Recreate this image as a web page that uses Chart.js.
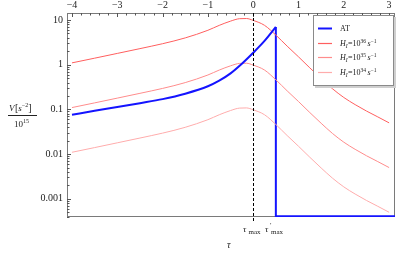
<!DOCTYPE html>
<html><head><meta charset="utf-8">
<script src="https://cdn.jsdelivr.net/npm/chart.js@4/dist/chart.umd.min.js"></script>
<style>html,body{margin:0;padding:0;background:#fff;overflow:hidden}</style>
</head><body>
<canvas id="c" width="415" height="259"></canvas>
<script>
// ---- data ----
const tau   = [-4,-3.5,-3,-2.5,-2,-1.5,-1,-0.75,-0.5,-0.3,-0.15,0,0.25,0.5,0.75,1,1.25,1.5,1.75,2,2.25,2.5,2.75,3];
const hI36  = [1.1,1.4,1.79,2.29,2.95,3.98,5.89,7.59,9.44,10.7,10.8,9.8,7.6,4.6,2.6,1.5,0.85,0.49,0.29,0.185,0.128,0.092,0.068,0.05];
const hI35  = [0.11,0.14,0.179,0.229,0.295,0.398,0.589,0.759,0.944,1.07,1.08,0.98,0.76,0.46,0.26,0.15,0.085,0.049,0.029,0.0185,0.0128,0.0092,0.0068,0.005];
const hI34  = [0.011,0.014,0.0179,0.0229,0.0295,0.0398,0.0589,0.0759,0.0944,0.107,0.108,0.098,0.076,0.046,0.026,0.015,0.0085,0.0049,0.0029,0.00185,0.00128,0.00092,0.00068,0.0005];
const atTau    = [-4,-3.5,-3,-2.5,-2,-1.5,-1,-0.75,-0.5,-0.25,0,0.25,0.5];
const atValues = [0.076,0.093,0.113,0.138,0.17,0.225,0.33,0.44,0.64,1.05,1.85,3.4,7.0];
const atDropTau    = [0.5,0.5,3.13];
const atDropValues = [7.0,0.00041,0.00041];
const xTickValues = [-4,-3,-2,-1,0,1,2,3];
const yTickValues = [10,1,0.1,0.01,0.001];
const yTickLabels = ['10','1','0.1','0.01','0.001'];
const seriesLabels = ['AT','H_I=10^36 s^-1','H_I=10^35 s^-1','H_I=10^34 s^-1'];
const legendExp = [null,'36','35','34'];

const pts = (xs, ys) => xs.map((x,i)=>({x, y: ys[i]}));
const SERIF = '"Liberation Serif", "DejaVu Serif", serif';
const XMIN = -4.11, XMAX = 3.13, YMIN = 0.000392, YMAX = 14.35;

const blue = 'rgb(20,20,255)';
const reds = ['rgb(255,95,95)','rgb(255,140,140)','rgb(255,172,172)'];

const deco = {
  id: 'deco',
  beforeDatasetsDraw(chart) {
    const {ctx, chartArea: a, scales} = chart;
    ctx.save();
    ctx.strokeStyle = '#7a7a7a';
    ctx.lineWidth = 1;
    ctx.strokeRect(a.left + 0.5, a.top + 0.5, a.right - a.left - 1, a.bottom - a.top - 1);
    ctx.strokeStyle = '#555';
    const xs = scales.x;
    ctx.beginPath();
    for (let k = Math.ceil(XMIN*5); k <= Math.floor(XMAX*5); k++) {
      const v = k/5, px = Math.round(xs.getPixelForValue(v)) + 0.5;
      const len = (k % 5 === 0) ? 4 : 2.5;
      ctx.moveTo(px, a.top); ctx.lineTo(px, a.top + len);
    }
    const ys = scales.y;
    for (let e = -4; e <= 1; e++) {
      for (let m = 1; m <= 9; m++) {
        const v = m * Math.pow(10, e);
        if (v < YMIN || v > YMAX) continue;
        const py = Math.round(ys.getPixelForValue(v)) + 0.5;
        const len = m === 1 ? 4 : 2.5;
        ctx.moveTo(a.left, py); ctx.lineTo(a.left + len, py);
      }
    }
    ctx.stroke();
    ctx.restore();
  },
  afterDatasetsDraw(chart) {
    const {ctx, chartArea: a, scales} = chart;
    ctx.save();
    const x0 = Math.round(scales.x.getPixelForValue(0)) + 0.5;
    ctx.strokeStyle = '#000';
    ctx.lineWidth = 1;
    ctx.setLineDash([3,2]);
    ctx.beginPath(); ctx.moveTo(x0, a.top); ctx.lineTo(x0, a.bottom + 6); ctx.stroke();
    ctx.setLineDash([]);

    const L = 313, T = 15, R = 394, B = 86;
    ctx.fillStyle = '#cfcfcf';
    ctx.fillRect(L + 2, T + 2, R - L, B - T);
    ctx.fillStyle = '#fff';
    ctx.fillRect(L, T, R - L, B - T);
    ctx.strokeStyle = '#8a8a8a';
    ctx.strokeRect(L + 0.5, T + 0.5, R - L - 1, B - T - 1);
    const rows = [28, 43, 57, 72];
    const ds = chart.data.datasets;
    for (let i = 0; i < 4; i++) {
      const y = rows[i] + 0.5;
      ctx.strokeStyle = ds[i].borderColor;
      ctx.lineWidth = i === 0 ? 2 : 1.2;
      ctx.beginPath(); ctx.moveTo(318, y); ctx.lineTo(332, y); ctx.stroke();
      ctx.fillStyle = '#222';
      ctx.textBaseline = 'alphabetic';
      let x = 340; const base = rows[i] + 3;
      if (i === 0) {
        ctx.font = '8px ' + SERIF; ctx.fillText(ds[i].label, x, base);
      } else {
        ctx.font = 'italic 8px ' + SERIF; ctx.fillText('H', x, base); x += ctx.measureText('H').width;
        ctx.font = 'italic 5.5px ' + SERIF; ctx.fillText('I', x, base + 2); x += ctx.measureText('I').width + 0.3;
        ctx.font = '8px ' + SERIF; ctx.fillText('=10', x, base); x += ctx.measureText('=10').width;
        ctx.font = '5.5px ' + SERIF; ctx.fillText(legendExp[i], x, base - 3.5); x += ctx.measureText(legendExp[i]).width + 1.5;
        ctx.font = 'italic 8px ' + SERIF; ctx.fillText('s', x, base); x += ctx.measureText('s').width;
        ctx.font = '5.5px ' + SERIF; ctx.fillText('\u22121', x, base - 3.5);
      }
    }

    ctx.fillStyle = '#222';
    let x = 9, by = 111;
    ctx.font = 'italic 9px ' + SERIF; ctx.fillText('V', x, by); x += ctx.measureText('V').width + 0.5;
    ctx.font = '10px ' + SERIF; ctx.fillText('[', x, by); x += ctx.measureText('[').width;
    ctx.font = 'italic 9px ' + SERIF; ctx.fillText('s', x, by); x += ctx.measureText('s').width;
    ctx.font = '6px ' + SERIF; ctx.fillText('\u22122', x, by - 4); x += ctx.measureText('\u22122').width;
    ctx.font = '10px ' + SERIF; ctx.fillText(']', x, by); x += ctx.measureText(']').width;
    ctx.strokeStyle = '#222'; ctx.lineWidth = 1;
    ctx.beginPath(); ctx.moveTo(8, 115.5); ctx.lineTo(37, 115.5); ctx.stroke();
    x = 14; by = 127;
    ctx.font = '9px ' + SERIF; ctx.fillText('10', x, by); x += ctx.measureText('10').width;
    ctx.font = '6px ' + SERIF; ctx.fillText('15', x, by - 4);

    ctx.font = 'italic 10px ' + SERIF; ctx.fillText('\u03C4', 227, 248);
    ctx.font = 'italic 9px ' + SERIF; ctx.fillText('\u03C4', 243, 232);
    ctx.font = '7px ' + SERIF; ctx.fillText('max', 248.5, 234);
    ctx.font = 'italic 9px ' + SERIF; ctx.fillText('\u03C4', 265, 232);
    ctx.font = '7px ' + SERIF; ctx.fillText('\u2032', 270, 227);
    ctx.fillText('max', 271, 234);
    ctx.restore();
  }
};

new Chart(document.getElementById('c'), {
  type: 'line',
  data: {
    datasets: [
      {label: seriesLabels[0], data: pts(atTau, atValues), borderColor: blue, borderWidth: 2, pointRadius: 0, cubicInterpolationMode: 'monotone', fill: false},
      {label: seriesLabels[1], data: pts(tau, hI36), borderColor: reds[0], borderWidth: 1, pointRadius: 0, cubicInterpolationMode: 'monotone', fill: false},
      {label: seriesLabels[2], data: pts(tau, hI35), borderColor: reds[1], borderWidth: 1, pointRadius: 0, cubicInterpolationMode: 'monotone', fill: false},
      {label: seriesLabels[3], data: pts(tau, hI34), borderColor: reds[2], borderWidth: 1, pointRadius: 0, cubicInterpolationMode: 'monotone', fill: false},
      {label: 'AT drop', data: pts(atDropTau, atDropValues), borderColor: blue, borderWidth: 2, pointRadius: 0, tension: 0, fill: false}
    ]
  },
  options: {
    responsive: false,
    animation: false,
    devicePixelRatio: 1,
    layout: {padding: {left: 0, top: 0, right: 20, bottom: 42}},
    plugins: {legend: {display: false}, tooltip: {enabled: false}},
    scales: {
      x: {
        type: 'linear', position: 'top', min: XMIN, max: XMAX,
        afterBuildTicks: s => { s.ticks = xTickValues.map(v => ({value: v})); },
        afterFit: s => { s.height = 13; },
        grid: {display: false, drawTicks: false},
        border: {display: false},
        ticks: {autoSkip: false, maxRotation: 0, padding: 2, color: '#222',
          font: {family: SERIF, size: 10},
          callback: v => String(v).replace('-', '\u2212')}
      },
      y: {
        type: 'logarithmic', min: YMIN, max: YMAX,
        afterBuildTicks: s => { s.ticks = yTickValues.map(v => ({value: v})); },
        afterFit: s => { s.width = 67; },
        grid: {display: false, drawTicks: false},
        border: {display: false},
        ticks: {autoSkip: false, padding: 4, color: '#222',
          font: {family: SERIF, size: 10},
          callback: (v, i) => yTickLabels[i]}
      }
    }
  },
  plugins: [deco]
});
</script>
</body></html>
